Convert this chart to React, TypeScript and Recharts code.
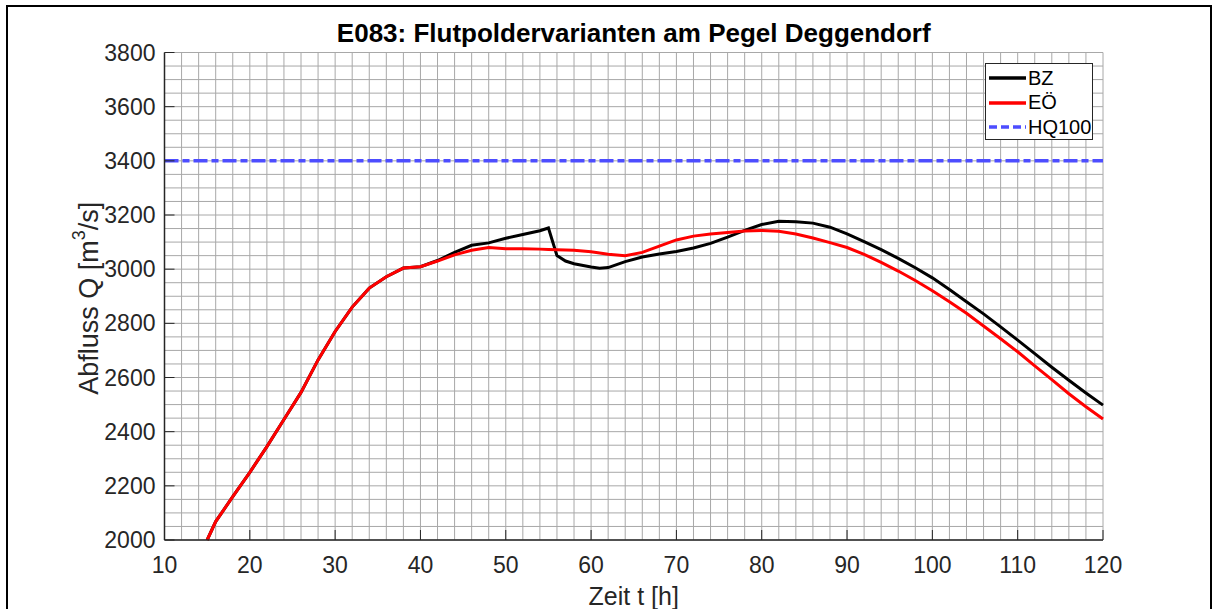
import React from 'react';
import {
  LineChart,
  Line,
  XAxis,
  YAxis,
  CartesianGrid,
  ReferenceLine,
  Legend,
} from 'recharts';

// time axis [h]
const TIME = [
  15, 16, 18, 20, 22, 24, 26, 28, 30, 32, 34, 36, 38, 40, 42, 44, 46, 48, 50, 52, 54, 55,
  56, 57, 58, 60, 61, 62, 64, 66, 68, 70, 72, 74, 76, 78, 80, 82, 84, 86, 88, 90, 92, 94,
  96, 98, 100, 102, 104, 106, 108, 110, 112, 114, 116, 118, 120,
];

// discharge BZ [m3/s]
const BZ = [
  2000, 2068, 2160, 2250, 2345, 2445, 2545, 2665, 2770, 2860, 2930, 2972, 3004, 3009, 3032,
  3062, 3088, 3097, 3114, 3128, 3142, 3152, 3050, 3030, 3020, 3008, 3003, 3006, 3028, 3045,
  3056, 3065, 3078, 3095, 3118, 3143, 3165, 3177, 3175, 3170, 3155, 3130, 3102, 3072, 3040,
  3005, 2968, 2925, 2880, 2835, 2787, 2738, 2688, 2638, 2590, 2543, 2498,
];

// discharge EÖ [m3/s]
const EO = [
  2000, 2068, 2160, 2250, 2345, 2445, 2545, 2665, 2770, 2860, 2930, 2972, 3004, 3009, 3030,
  3053, 3070, 3080, 3075, 3075, 3074, 3073, 3072, 3071, 3070, 3064, 3060, 3055, 3050, 3062,
  3085, 3108, 3122, 3130, 3135, 3141, 3143, 3140, 3130, 3115, 3098, 3080, 3055, 3025, 2993,
  2958, 2920, 2880, 2837, 2790, 2743, 2695, 2643, 2592, 2540, 2492, 2447,
];

const HQ100 = 3400;

const X_LABELS = [10, 20, 30, 40, 50, 60, 70, 80, 90, 100, 110, 120];
const Y_LABELS = [2000, 2200, 2400, 2600, 2800, 3000, 3200, 3400, 3600, 3800];

// minor grid steps
const X_GRID = Array.from({ length: 56 }, (_, i) => 10 + i * 2);
const Y_GRID = Array.from({ length: 37 }, (_, i) => 2000 + i * 50);

const SERIES = [
  { key: 'bz', name: 'BZ', color: '#000000', dash: undefined as string | undefined },
  { key: 'eo', name: 'EÖ', color: '#ff0000', dash: undefined as string | undefined },
];

const data = TIME.map((t, i) => ({ t, bz: BZ[i], eo: EO[i] }));

const FONT = '"Liberation Sans", Arial, Helvetica, sans-serif';
const AXIS_COLOR = '#262626';

const XTick = (props: any) => {
  const { x, y, payload } = props;
  if (!X_LABELS.includes(payload.value)) return null;
  return (
    <g>
      <line x1={x} x2={x} y1={y} y2={y - 10} stroke={AXIS_COLOR} strokeWidth={1} />
      <text x={x} y={y + 25} textAnchor="middle" dominantBaseline="central" fill={AXIS_COLOR} fontSize={23} fontFamily={FONT}>
        {payload.value}
      </text>
    </g>
  );
};

const YTick = (props: any) => {
  const { x, y, payload } = props;
  if (!Y_LABELS.includes(payload.value)) return null;
  return (
    <g>
      <line x1={x} x2={x + 10} y1={y} y2={y} stroke={AXIS_COLOR} strokeWidth={1} />
      <text x={x - 9} y={y} textAnchor="end" dominantBaseline="central" fill={AXIS_COLOR} fontSize={23} fontFamily={FONT}>
        {payload.value}
      </text>
    </g>
  );
};

const YLabel = (props: any) => {
  const vb = props.viewBox;
  const cx = vb.x + vb.width - 76;
  const cy = vb.y + vb.height / 2 + 2;
  return (
    <text
      x={cx}
      y={cy}
      transform={`rotate(-90, ${cx}, ${cy})`}
      textAnchor="middle"
      dominantBaseline="central"
      fill={AXIS_COLOR}
      fontSize={27}
      fontFamily={FONT}
    >
      Abfluss Q [m<tspan dy={-10} fontSize={18}>3</tspan>
      <tspan dy={10}>/s]</tspan>
    </text>
  );
};

const XLabel = (props: any) => {
  const vb = props.viewBox;
  return (
    <text
      x={vb.x + vb.width / 2}
      y={vb.y + 56}
      textAnchor="middle"
      dominantBaseline="central"
      fill={AXIS_COLOR}
      fontSize={25}
      fontFamily={FONT}
    >
      Zeit t [h]
    </text>
  );
};

const LegendBox = () => {
  const items = [
    ...SERIES,
    { key: 'hq', name: 'HQ100', color: '#4d4dff', dash: '8 4' },
  ];
  return (
    <div
      style={{
        width: 108,
        height: 77,
        border: '1px solid #262626',
        background: '#fff',
        fontFamily: FONT,
        fontSize: 20,
        boxSizing: 'border-box',
        paddingTop: 2,
      }}
    >
      {items.map((it) => (
        <div key={it.key} style={{ display: 'flex', alignItems: 'center', height: 24.5 }}>
          <svg width={40} height={10} style={{ marginLeft: 2 }}>
            <line x1={1} x2={38} y1={5} y2={5} stroke={it.color} strokeWidth={3.5} strokeDasharray={it.dash} />
          </svg>
          <span style={{ color: '#000', marginLeft: 0 }}>{it.name}</span>
        </div>
      ))}
    </div>
  );
};

export default function App() {
  return (
    <div style={{ position: 'absolute', left: 0, top: 0, width: 1214, height: 609, background: '#fff', overflow: 'hidden' }}>
      <div
        style={{
          position: 'absolute',
          left: 6,
          top: 5,
          width: 1206,
          height: 640,
          border: '2px solid #000',
          boxSizing: 'border-box',
        }}
      />
      <div
        style={{
          position: 'absolute',
          left: 164.5,
          width: 938.5,
          top: 17,
          textAlign: 'center',
          fontFamily: FONT,
          fontWeight: 'bold',
          fontSize: 26,
          lineHeight: '32px',
          color: '#000',
        }}
      >
        E083: Flutpoldervarianten am Pegel Deggendorf
      </div>
      <div style={{ position: 'absolute', left: 0, top: 0 }}>
        <LineChart width={1214} height={609} data={data} margin={{ top: 52.5, right: 111, bottom: 9, left: 104.5 }}>
          <CartesianGrid stroke="#a8a8a8" strokeWidth={1} />
          <XAxis
            dataKey="t"
            type="number"
            domain={[10, 120]}
            ticks={X_GRID}
            interval={0}
            height={60}
            tickSize={0}
            tickMargin={0}
            tickLine={false}
            tick={<XTick />}
            axisLine={{ stroke: AXIS_COLOR, strokeWidth: 1.5 }}
            label={<XLabel />}
          />
          <YAxis
            type="number"
            domain={[2000, 3800]}
            ticks={Y_GRID}
            interval={0}
            width={60}
            tickSize={0}
            tickMargin={0}
            tickLine={false}
            tick={<YTick />}
            axisLine={{ stroke: AXIS_COLOR, strokeWidth: 1.5 }}
            label={<YLabel />}
          />
          <ReferenceLine y={HQ100} stroke="#4d4dff" strokeWidth={3.5} strokeDasharray="14 4 7 4" />
          {SERIES.map((s) => (
            <Line
              key={s.key}
              dataKey={s.key}
              name={s.name}
              type="linear"
              stroke={s.color}
              strokeWidth={3}
              dot={false}
              activeDot={false}
              isAnimationActive={false}
            />
          ))}
          <Legend
            layout="vertical"
            align="center"
            verticalAlign="middle"
            content={<LegendBox />}
            wrapperStyle={{ left: 985, top: 63, width: 108, height: 78 }}
          />
        </LineChart>
      </div>
    </div>
  );
}
